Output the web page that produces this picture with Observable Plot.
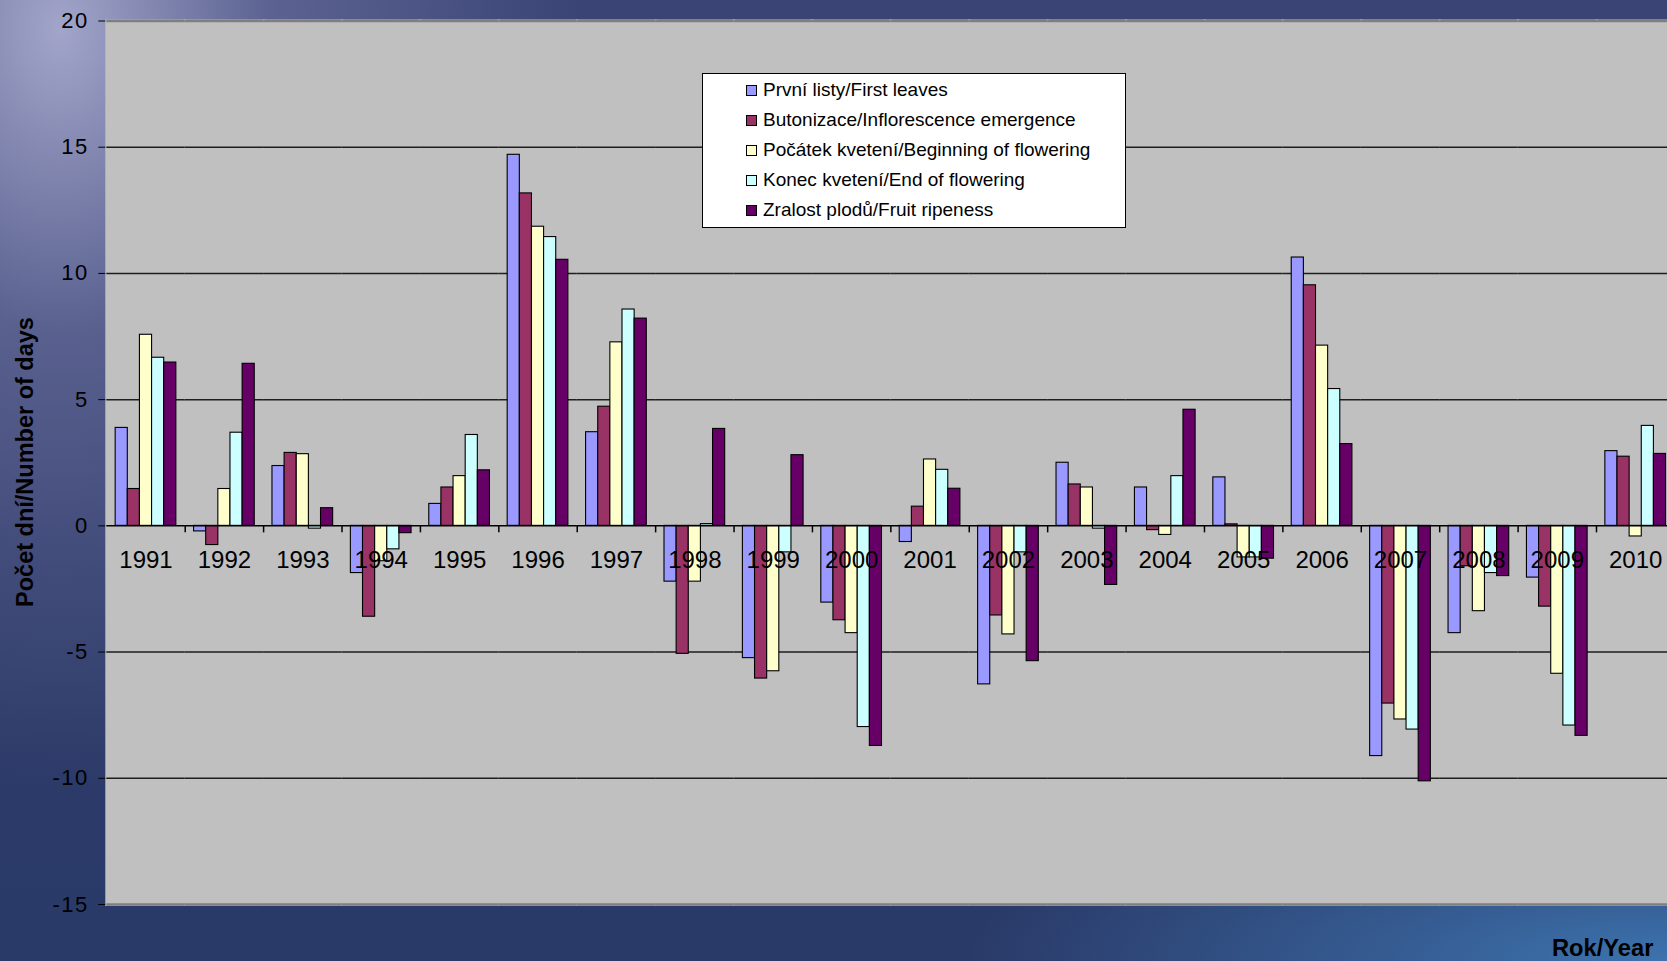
<!DOCTYPE html>
<html>
<head>
<meta charset="utf-8">
<script src="https://cdn.jsdelivr.net/npm/d3@7"></script>
<script src="https://cdn.jsdelivr.net/npm/@observablehq/plot@0.6"></script>
<style>
  html, body { margin: 0; padding: 0; width: 1667px; height: 961px; overflow: hidden; }
  body {
    position: relative;
    font-family: "Liberation Sans", Arial, sans-serif;
    background:
      radial-gradient(ellipse 520px 760px at 60px 30px, rgba(168,170,206,0.95) 0%, rgba(120,124,170,0.55) 40%, rgba(70,78,125,0) 100%),
      radial-gradient(ellipse 700px 180px at 100% 100%, rgba(62,118,178,0.95) 0%, rgba(62,118,178,0) 100%),
      linear-gradient(180deg, #3a4575 0%, #2e3a68 55%, #2a3a68 100%);
  }
  #chart { position: absolute; left: 0; top: 0; }
  #chart svg g[aria-label="y-axis tick label"] text { letter-spacing: 1.5px; }
  #ytitle {
    position: absolute; left: 25px; top: 462px;
    transform: translate(-50%, -50%) rotate(-90deg);
    white-space: nowrap; font-weight: bold; font-size: 23.5px; color: #000;
  }
  #xtitle {
    position: absolute; left: 1552px; top: 937px; line-height: 1;
    white-space: nowrap; font-weight: bold; font-size: 23.7px; color: #000;
  }
  #legend {
    position: absolute; left: 702px; top: 73px; width: 422px; height: 152px;
    background: #fff; border: 1px solid #000; padding-top: 1px; box-sizing: content-box;
  }
  #legend .row { height: 30px; line-height: 30px; padding-left: 43px; font-size: 19px; color: #000; white-space: nowrap; }
  #legend .sw { display: inline-block; width: 9px; height: 9px; border: 1px solid #000; margin-right: 6px; vertical-align: 0px; }
</style>
</head>
<body>
<div id="chart"></div>
<div id="ytitle">Počet dní/Number of days</div>
<div id="xtitle">Rok/Year</div>
<div id="legend"></div>
<script>
// ---- data ----
const years = ["1991","1992","1993","1994","1995","1996","1997","1998","1999","2000",
               "2001","2002","2003","2004","2005","2006","2007","2008","2009","2010"];
const seriesNames = [
  "První listy/First leaves",
  "Butonizace/Inflorescence emergence",
  "Počátek kvetení/Beginning of flowering",
  "Konec kvetení/End of flowering",
  "Zralost plodů/Fruit ripeness"
];
const seriesColors = ["#9999FF", "#993366", "#FFFFCC", "#CCFFFF", "#660066"];
const firstLeaves     = [3.88, -0.22, 2.37, -1.87, 0.87, 14.70, 3.71, -2.21, -5.24, -3.04, -0.64, -6.28, 2.50, 1.52, 1.92, 10.63, -9.12, -4.25, -2.05, 2.96];
const inflorescence   = [1.46, -0.76, 2.89, -3.60, 1.52, 13.17, 4.72, -5.07, -6.05, -3.74, 0.76, -3.55, 1.64, -0.17, 0.06, 9.53, -7.04, -1.60, -3.20, 2.74];
const beginFlowering  = [7.57, 1.46, 2.84, -1.40, 1.97, 11.85, 7.27, -2.21, -5.76, -4.25, 2.63, -4.30, 1.52, -0.36, -1.25, 7.14, -7.67, -3.38, -5.86, -0.42];
const endFlowering    = [6.66, 3.69, -0.11, -0.93, 3.60, 11.44, 8.57, 0.07, -1.05, -7.97, 2.22, -1.05, -0.11, 1.97, -1.25, 5.42, -8.07, -1.87, -7.91, 3.96];
const fruitRipeness   = [6.47, 6.42, 0.70, -0.29, 2.20, 10.54, 8.21, 3.84, 2.80, -8.72, 1.47, -5.36, -2.34, 4.60, -1.30, 3.24, -10.12, -1.99, -8.32, 2.85];
const yTicks = [20, 15, 10, 5, 0, -5, -10, -15];
const gridValues = [15, 10, 5, -5, -10];

// ---- layout ----
const W = 1667, H = 961;
const mLeft = 106.3, mRight = -7.4, mTop = 20.5, mBottom = 57;
const xPadOuter = 0.73;
const facetW = (W - mLeft - mRight) / years.length;
const step = facetW / (seriesNames.length + 2 * xPadOuter);
const boundaryDx = -(xPadOuter + 0.5) * step;
const pxPerUnit = (H - mTop - mBottom) / (yTicks[0] - yTicks[yTicks.length - 1]);
const tickDown = -7 / pxPerUnit;

const allSeries = [firstLeaves, inflorescence, beginFlowering, endFlowering, fruitRipeness];
const rows = years.flatMap((yr, i) => seriesNames.map((s, k) => ({year: yr, series: s, value: allSeries[k][i]})));

const plot = Plot.plot({
  width: W, height: H,
  marginLeft: mLeft, marginRight: mRight, marginTop: mTop, marginBottom: mBottom,
  style: {background: "transparent", fontFamily: "'Liberation Sans', Arial, sans-serif", fontSize: "22px", color: "#000", overflow: "visible"},
  fx: {domain: years, padding: 0, round: false, axis: null, label: null},
  x: {domain: seriesNames, paddingInner: 0, paddingOuter: xPadOuter, round: false, axis: null},
  y: {domain: [yTicks[yTicks.length - 1], yTicks[0]], ticks: yTicks, tickFormat: d => String(d),
      tickSize: 8, tickPadding: 10, label: null, line: true},
  color: {domain: seriesNames, range: seriesColors},
  marks: [
    Plot.frame({fill: "#c0c0c0", stroke: "#c0c0c0", strokeWidth: 3}),
    Plot.ruleY(gridValues, {stroke: "#1e1e1e", strokeWidth: 1.5}),
    Plot.ruleY([yTicks[0], yTicks[yTicks.length - 1]], {stroke: "#7f7f7f", strokeWidth: 2.5}),
    Plot.barY(rows, {fx: "year", x: "series", y: "value", fill: "series", stroke: "#000", strokeWidth: 1.1}),
    Plot.ruleY([0], {stroke: "#000", strokeWidth: 1.5}),
    Plot.ruleX(years.slice(1), {fx: d => d, x: () => seriesNames[0], y1: 0, y2: tickDown, dx: boundaryDx, stroke: "#000", strokeWidth: 1.5}),
    Plot.text(years, {fx: d => d, y: () => 0, text: d => d, dy: 34, fontSize: 24, fill: "#000"})
  ]
});
document.getElementById("chart").appendChild(plot);

// ---- legend ----
const legend = document.getElementById("legend");
seriesNames.forEach((name, k) => {
  const row = document.createElement("div");
  row.className = "row";
  const sw = document.createElement("span");
  sw.className = "sw";
  sw.style.background = seriesColors[k];
  row.appendChild(sw);
  row.appendChild(document.createTextNode(name));
  legend.appendChild(row);
});
</script>
</body>
</html>
